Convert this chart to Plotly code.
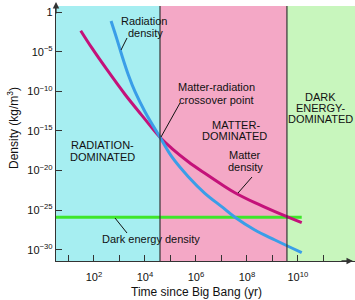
import plotly.graph_objects as go

# ---- data (log10 values) ----
rad_log_t = [2.67, 2.89, 3.09, 3.35, 3.61, 4.00, 4.59, 5.05, 5.70, 6.35, 7.01, 7.53, 8.31, 9.10, 10.15]
rad_log_rho = [-1.13, -3.32, -5.42, -7.94, -10.05, -12.57, -15.8, -18.25, -20.77, -22.86, -24.55, -25.89, -27.49, -28.75, -30.35]

mat_log_t = [1.48, 1.91, 2.56, 3.22, 3.87, 4.59, 5.05, 5.70, 6.35, 7.01, 7.53, 8.31, 9.10, 10.15]
mat_log_rho = [-2.36, -4.5, -7.5, -10.4, -13.0, -15.8, -17.19, -18.88, -20.34, -21.75, -22.79, -24.05, -25.18, -26.57]

dark_log_t = [0.51, 10.15]
dark_log_rho = [-25.89, -25.89]

era_bounds_log_t = [0.51, 4.59, 9.57, 12.24]

x_tick_exp = list(range(1, 12))
x_tick_text = ["" if e % 2 else "10<sup>%d</sup>" % e for e in x_tick_exp]
y_tick_exp = [0, -5, -10, -15, -20, -25, -30]
y_tick_text = ["1" if e == 0 else "10<sup>\u2212%d</sup>" % (-e) for e in y_tick_exp]

# ---- geometry helpers (pixel -> paper) ----
L, R, T, B = 56, 355, 6, 261
def px(x):
    return (x - L) / (R - L)
def py(y):
    return (B - y) / (B - T)

FONT = "Liberation Sans, Arial, sans-serif"
p10 = lambda v: [10 ** a for a in v]

fig = go.Figure()

era_colors = ["#a6eef1", "#f4a8c6", "#c8f6bd"]
for i, c in enumerate(era_colors):
    fig.add_shape(type="rect", xref="x", yref="paper",
                  x0=10 ** era_bounds_log_t[i], x1=10 ** era_bounds_log_t[i + 1],
                  y0=0, y1=1, fillcolor=c, line_width=0, layer="below")
for b in era_bounds_log_t[1:3]:
    fig.add_shape(type="line", xref="x", yref="paper", x0=10 ** b, x1=10 ** b,
                  y0=0, y1=1, line=dict(color="#333333", width=1.2))

fig.add_trace(go.Scatter(x=p10(dark_log_t), y=p10(dark_log_rho), mode="lines",
                         line=dict(color="#3ee62a", width=3), hoverinfo="skip"))
fig.add_trace(go.Scatter(x=p10(mat_log_t), y=p10(mat_log_rho), mode="lines",
                         line=dict(color="#c4127a", width=3, shape="spline"), hoverinfo="skip"))
fig.add_trace(go.Scatter(x=p10(rad_log_t), y=p10(rad_log_rho), mode="lines",
                         line=dict(color="#3a9ee8", width=3, shape="spline"), hoverinfo="skip"))

ann = []
def text(x, y, t, anchor="center", size=11):
    ann.append(dict(x=px(x), y=py(y), xref="paper", yref="paper", text=t,
                    showarrow=False, xanchor=anchor, yanchor="middle",
                    font=dict(family=FONT, size=size, color="#111111")))

text(144, 21, "Radiation"); text(145, 33, "density")
text(176, 87, "Matter-radiation", "left"); text(177, 100, "crossover point", "left")
text(102, 145, "RADIATION-"); text(102, 157, "DOMINATED")
text(236, 125, "MATTER-"); text(234, 136, "DOMINATED")
text(320, 97, "DARK"); text(320, 108, "ENERGY-"); text(320, 119, "DOMINATED")
text(245, 155, "Matter"); text(245, 167, "density")
text(100, 239, "Dark energy density", "left")

text(196, 292, "Time since Big Bang (yr)", size=12)
ann.append(dict(x=px(13), y=py(128), xref="paper", yref="paper",
                text="Density (kg/m<sup>3</sup>)", showarrow=False, textangle=-90,
                xanchor="center", yanchor="middle",
                font=dict(family=FONT, size=12, color="#111111")))

# axis arrows
ann.append(dict(x=px(353), y=py(261), xref="paper", yref="paper", ax=-13, ay=0,
                text="", showarrow=True, arrowhead=2,
                arrowsize=1, arrowwidth=1.3, arrowcolor="#333333"))
ann.append(dict(x=px(56), y=py(2), xref="paper", yref="paper", ax=0, ay=13,
                text="", showarrow=True, arrowhead=2,
                arrowsize=1, arrowwidth=1.3, arrowcolor="#333333"))

for (x0, y0, x1, y1) in [(127, 38, 121, 50), (180, 103, 161, 137),
                         (252, 177, 238, 193), (115, 218, 127, 233)]:
    fig.add_shape(type="line", xref="paper", yref="paper", x0=px(x0), y0=py(y0),
                  x1=px(x1), y1=py(y1), line=dict(color="#111111", width=1))

fig.update_layout(
    width=355, height=300, margin=dict(l=L, r=355 - R, t=T, b=300 - B),
    paper_bgcolor="white", plot_bgcolor="white", showlegend=False,
    annotations=ann, hovermode=False,
    font=dict(family=FONT, size=11, color="#111111"),
)
fig.update_xaxes(type="log", range=[0.51, 12.24], tickvals=[10 ** e for e in x_tick_exp],
                 ticktext=x_tick_text, ticks="inside", ticklen=6, tickcolor="#333333",
                 showline=True, linecolor="#333333", linewidth=1.3, showgrid=False,
                 zeroline=False, tickfont=dict(size=11), ticklabelstandoff=6)
fig.update_yaxes(type="log", range=[-31.40, 0.76], tickvals=[10 ** e for e in y_tick_exp],
                 ticktext=y_tick_text, ticks="inside", ticklen=6, tickcolor="#333333",
                 showline=True, linecolor="#333333", linewidth=1.3, showgrid=False,
                 zeroline=False, tickfont=dict(size=11))

fig.write_html("out.html", config={"displayModeBar": False},
               post_script="document.body.style.margin='0';document.body.style.overflow='hidden';")
